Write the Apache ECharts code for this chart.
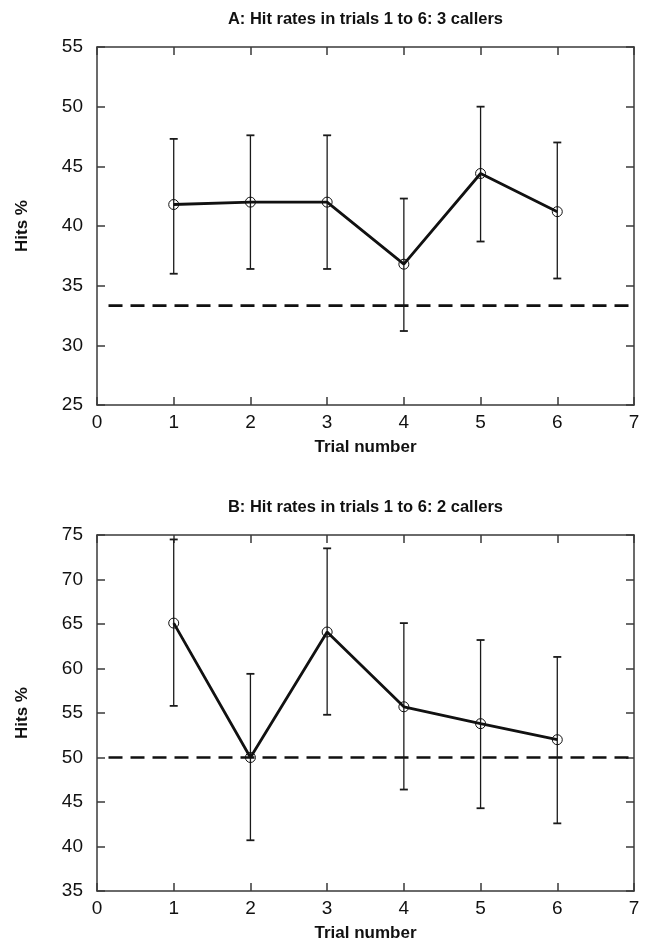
<!DOCTYPE html>
<html>
<head>
<meta charset="utf-8">
<script src="https://cdn.jsdelivr.net/npm/echarts@6/dist/echarts.min.js"></script>
<style>
html,body{margin:0;padding:0;background:#fff;}
#chart{width:647px;height:943px;}
</style>
</head>
<body>
<div id="chart"></div>
<script>
// ---- data ----
const trials = [1, 2, 3, 4, 5, 6];
const titleA = 'A: Hit rates in trials 1 to 6: 3 callers';
const titleB = 'B: Hit rates in trials 1 to 6: 2 callers';
const xName = 'Trial number';
const yName = 'Hits %';

const hitsA = [41.8, 42.0, 42.0, 36.8, 44.4, 41.2];
const lowA  = [36.0, 36.4, 36.4, 31.2, 38.7, 35.6];
const highA = [47.3, 47.6, 47.6, 42.3, 50.0, 47.0];
const chanceA = 33.33;

const hitsB = [65.1, 50.0, 64.1, 55.7, 53.8, 52.0];
const lowB  = [55.8, 40.7, 54.8, 46.4, 44.3, 42.6];
const highB = [74.5, 59.4, 73.5, 65.1, 63.2, 61.3];
const chanceB = 50;

const chanceX = [0.15, 7.08];
const xRange = [0, 7];
const yRangeA = [25, 55];
const yRangeB = [35, 75];

// ---- chart ----
const FONT = 'Liberation Sans, Arial, sans-serif';
const AX = '#3a3a3a';

function errRender(params, api) {
  const x = api.value(0);
  const lo = api.coord([x, api.value(1)]);
  const hi = api.coord([x, api.value(2)]);
  const w = 4;
  const st = { stroke: '#1a1a1a', lineWidth: 1.3 };
  const cap = { stroke: '#1a1a1a', lineWidth: 1.8 };
  return {
    type: 'group',
    children: [
      { type: 'line', shape: { x1: lo[0], y1: lo[1], x2: hi[0], y2: hi[1] }, style: st },
      { type: 'line', shape: { x1: lo[0] - w, y1: lo[1], x2: lo[0] + w, y2: lo[1] }, style: cap },
      { type: 'line', shape: { x1: hi[0] - w, y1: hi[1], x2: hi[0] + w, y2: hi[1] }, style: cap }
    ]
  };
}

function xAxes(gridIndex, title) {
  const common = {
    type: 'value', gridIndex: gridIndex, min: xRange[0], max: xRange[1], interval: 1,
    axisLine: { show: true, onZero: false, lineStyle: { color: AX, width: 1.5 } },
    axisTick: { show: true, inside: true, length: 8, lineStyle: { color: AX, width: 1.5 } },
    splitLine: { show: false }
  };
  return [
    Object.assign({}, common, {
      position: 'bottom',
      axisLabel: { show: true, color: '#111', fontSize: 19, fontFamily: FONT, margin: 8 },
      name: xName, nameLocation: 'middle', nameGap: 34,
      nameTextStyle: { color: '#111', fontSize: 17, fontWeight: 'bold', fontFamily: FONT }
    }),
    Object.assign({}, common, {
      position: 'top',
      axisLabel: { show: false },
      name: title, nameLocation: 'middle', nameGap: 19,
      nameTextStyle: { color: '#111', fontSize: 16.5, fontWeight: 'bold', fontFamily: FONT }
    })
  ];
}

function yAxes(gridIndex, range) {
  const common = {
    type: 'value', gridIndex: gridIndex, min: range[0], max: range[1], interval: 5,
    axisLine: { show: true, onZero: false, lineStyle: { color: AX, width: 1.5 } },
    axisTick: { show: true, inside: true, length: 8, lineStyle: { color: AX, width: 1.5 } },
    splitLine: { show: false }
  };
  return [
    Object.assign({}, common, {
      position: 'left',
      axisLabel: { show: true, color: '#111', fontSize: 19, fontFamily: FONT, margin: 14 },
      name: yName, nameLocation: 'middle', nameGap: 66,
      nameTextStyle: { color: '#111', fontSize: 17, fontWeight: 'bold', fontFamily: FONT }
    }),
    Object.assign({}, common, {
      position: 'right',
      axisLabel: { show: false }
    })
  ];
}

function seriesFor(gridIdx, hits, low, high, chance) {
  const xi = gridIdx * 2, yi = gridIdx * 2;
  return [
    {
      type: 'line', xAxisIndex: xi, yAxisIndex: yi, silent: true, clip: false,
      data: chanceX.map(function (x) { return [x, chance]; }),
      symbol: 'none',
      lineStyle: { color: '#111', width: 2.6, type: [14, 8] },
      z: 2
    },
    {
      type: 'custom', xAxisIndex: xi, yAxisIndex: yi, silent: true,
      renderItem: errRender,
      data: trials.map(function (t, i) { return [t, low[i], high[i]]; }),
      z: 3
    },
    {
      type: 'line', xAxisIndex: xi, yAxisIndex: yi, silent: true,
      data: trials.map(function (t, i) { return [t, hits[i]]; }),
      symbol: 'circle', symbolSize: 10,
      itemStyle: { color: 'rgba(0,0,0,0)', borderColor: '#111', borderWidth: 1 },
      lineStyle: { color: '#111', width: 2.8 },
      z: 4
    }
  ];
}

const chart = echarts.init(document.getElementById('chart'), null, { renderer: 'canvas' });
chart.setOption({
  animation: false,
  backgroundColor: '#fff',
  grid: [
    { left: 97, right: 13, top: 47, height: 358 },
    { left: 97, right: 13, top: 535, height: 358 }
  ],
  xAxis: xAxes(0, titleA).concat(xAxes(1, titleB)),
  yAxis: yAxes(0, yRangeA).concat(yAxes(1, yRangeB)),
  series: seriesFor(0, hitsA, lowA, highA, chanceA).concat(seriesFor(1, hitsB, lowB, highB, chanceB))
});
</script>
</body>
</html>
